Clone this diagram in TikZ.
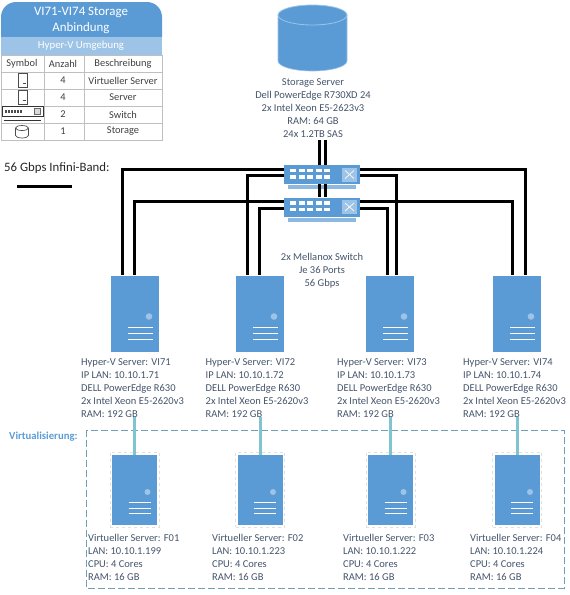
\documentclass[tikz,border=0pt]{standalone}
\usepackage{fontspec}
\setmainfont{Carlito}
\usetikzlibrary{calc}
\definecolor{hdrblue}{HTML}{5B9BD5}
\definecolor{lightblue}{HTML}{9DC3E6}
\definecolor{txtblue}{HTML}{44546A}
\definecolor{linkteal}{HTML}{7FC4CF}
\definecolor{boxteal}{HTML}{6F9FB4}
\definecolor{gridgray}{HTML}{BFBFBF}
\tikzset{
  infotxt/.style={anchor=north west,align=left,inner sep=0pt,text=txtblue,
    font=\fontsize{10.5}{13}\selectfont},
  midtxt/.style={anchor=north,align=center,inner sep=0pt,text=txtblue,
    font=\fontsize{10.5}{13}\selectfont},
  legtxt/.style={inner sep=0pt,text=black!75,font=\fontsize{10.4}{11}\selectfont},
  hdrtxt/.style={inner sep=0pt,text=white,align=center},
  server/.style={fill=hdrblue,inner sep=0pt,minimum width=48pt,minimum height=76pt},
  vserver/.style={fill=hdrblue,inner sep=0pt,minimum width=45pt,minimum height=70pt},
  vrim/.style={draw=black!12,dashed,line width=.8pt,inner sep=0pt,
    minimum width=49pt,minimum height=75pt},
  switchbox/.style={fill=hdrblue,inner sep=0pt,minimum width=76pt,minimum height=19pt},
  ib/.style={line width=3pt,black},
  vlink/.style={line width=3pt,linkteal},
  legicon/.style={draw=black!70,fill=white,line width=.7pt,inner sep=0pt,
    minimum width=9pt,minimum height=14pt},
}
% server and switch symbols
\newcommand{\srvmarks}[1]{%
  \fill[lightblue] ($(#1.center)+(14,3)$) circle (3.3pt);
  \foreach \d in {14,20,26}{\draw[white,line width=1pt] ($(#1.center)+(-7,\d)$)--($(#1.center)+(18,\d)$);}}
\newcommand{\vsrvmarks}[1]{%
  \fill[lightblue] ($(#1.center)+(13,2)$) circle (3pt);
  \foreach \d in {12,18,23}{\draw[white,line width=1pt] ($(#1.center)+(-6,\d)$)--($(#1.center)+(16,\d)$);}}
\newcommand{\switchmarks}[1]{%
  \fill[hdrblue!70] ($(#1.south west)+(4,1)$) rectangle ($(#1.south east)+(-4,5)$);
  \foreach \p in {-29,-20.5,-12,-3.5,5}{
    \fill[white] ($(#1.center)+(\p-3,-6)$) rectangle ($(#1.center)+(\p+3,-2.5)$);
    \fill[white] ($(#1.center)+(\p-3,0.5)$) rectangle ($(#1.center)+(\p+3,4)$);}
  \fill[lightblue] ($(#1.center)+(20,-7)$) rectangle ($(#1.center)+(35,7)$);
  \draw[white,line width=.7pt] ($(#1.center)+(23,-4)$)--($(#1.center)+(32,4)$);
  \draw[white,line width=.7pt] ($(#1.center)+(23,4)$)--($(#1.center)+(32,-4)$);}
\begin{document}
\begin{tikzpicture}[x=1pt,y=-1pt]
  \useasboundingbox (0,0) rectangle (570,595);

  % legend
  \fill[hdrblue] (1,37) [rounded corners=15pt] -- (1,2) -- (162,2) [sharp corners] -- (162,37) -- cycle;
  \fill[lightblue] (1,37) rectangle (162,55);
  \node[hdrtxt,font=\fontsize{12.9}{16}\selectfont] (legtitle) at (81,20) {VI71-VI74 Storage\\Anbindung};
  \node[hdrtxt,font=\fontsize{10.8}{12}\selectfont] (legsub) at (81,46) {Hyper-V Umgebung};
  \draw[gridgray,line width=.5pt] (1,55) rectangle (162,140);
  \foreach \y in {72,89,106,123}{\draw[gridgray,line width=.5pt] (1,\y)--(162,\y);}
  \foreach \x in {44,84}{\draw[gridgray,line width=.5pt] (\x,55)--(\x,140);}
  \node[legtxt] (hsym) at (22,63.5) {Symbol};
  \node[legtxt] (hanz) at (63,63.5) {Anzahl};
  \node[legtxt] (hdes) at (123,63.5) {Beschreibung};
  \node[legtxt] (n1) at (63,80.5) {4};
  \node[legtxt] (n2) at (63,97.5) {4};
  \node[legtxt] (n3) at (63,114.5) {2};
  \node[legtxt] (n4) at (63,131.5) {1};
  \node[legtxt] (d1) at (123,80.5) {Virtueller Server};
  \node[legtxt] (d2) at (123,97.5) {Server};
  \node[legtxt] (d3) at (123,114.5) {Switch};
  \node[legtxt] (d4) at (123,131.5) {Storage};
  \node[legicon] (lsrv1) at (22.5,80.5) {};
  \node[legicon] (lsrv2) at (22.5,97) {};
  \foreach \i in {lsrv1,lsrv2}{\draw[black!70,line width=.6pt] ($(\i.center)+(0,3)$)--($(\i.center)+(3,3)$);}
  \node[draw=black!80,fill=white,line width=.8pt,inner sep=0pt,minimum width=41pt,minimum height=10pt] (lsw) at (22.5,111.5) {};
  \draw[black!80,line width=.8pt] ($(lsw.south west)+(2,3)$)--($(lsw.south east)+(-2,3)$);
  \foreach \p in {-18,-15,-12,-9,-6,-3}{\fill[black!70] ($(lsw.center)+(\p,-2)$) rectangle ($(lsw.center)+(\p+2,1.5)$);}
  \node[draw=black!60,fill=black!15,inner sep=0pt,minimum size=6pt] (lswq) at ($(lsw.center)+(15,0)$) {};
  % small cylinder
  \draw[black!70,line width=.7pt,fill=white] (15.5,128) -- (15.5,135.5) arc[start angle=180,end angle=360,x radius=6.5pt,y radius=2.5pt] -- (28.5,128);
  \draw[black!70,line width=.7pt,fill=white] (22,128) ellipse (6.5pt and 2.5pt);

  \node[inner sep=0pt,anchor=west,text=black!85,font=\fontsize{12.8}{14}\selectfont] (ibtxt) at (4,168) {56 Gbps Infini-Band:};
  \coordinate (iba) at (17,186);
  \coordinate (ibb) at (72,186);
  \draw[ib] (iba)--(ibb);

  % storage
  \draw[lightblue,line width=.6pt,fill=hdrblue] (278,15) -- (278,61) arc[start angle=180,end angle=360,x radius=34.5pt,y radius=10pt] -- (347,15);
  \draw[lightblue,line width=.8pt,fill=hdrblue] (312.5,15) ellipse (34.5pt and 10pt);
  \node[midtxt] (storagetxt) at (313,78) {Storage Server\\Dell PowerEdge R730XD 24\\2x Intel Xeon E5-2623v3\\RAM: 64 GB\\24x 1.2TB SAS};

  % switches
  \node[switchbox] (sw1) at (322,174.5) {};
  \node[switchbox] (sw2) at (322,207) {};
  \switchmarks{sw1}
  \switchmarks{sw2}
  \node[midtxt] (swtxt) at (322,253) {2x Mellanox Switch\\Je 36 Ports\\56 Gbps};

  % hyper-v servers
  \node[server] (vi71) at (135,313.5) {};
  \node[server] (vi72) at (260,313.5) {};
  \node[server] (vi73) at (390,313.5) {};
  \node[server] (vi74) at (517,313.5) {};
  \foreach \s in {vi71,vi72,vi73,vi74}{\srvmarks{\s}}
  \node[infotxt] (vi71txt) at (81,358) {Hyper-V Server: VI71\\IP LAN: 10.10.1.71\\DELL PowerEdge R630\\2x Intel Xeon E5-2620v3\\RAM: 192 GB};
  \node[infotxt] (vi72txt) at (205.5,358) {Hyper-V Server: VI72\\IP LAN: 10.10.1.72\\DELL PowerEdge R630\\2x Intel Xeon E5-2620v3\\RAM: 192 GB};
  \node[infotxt] (vi73txt) at (337,358) {Hyper-V Server: VI73\\IP LAN: 10.10.1.73\\DELL PowerEdge R630\\2x Intel Xeon E5-2620v3\\RAM: 192 GB};
  \node[infotxt] (vi74txt) at (463,358) {Hyper-V Server: VI74\\IP LAN: 10.10.1.74\\DELL PowerEdge R630\\2x Intel Xeon E5-2620v3\\RAM: 192 GB};

  % infiniband links
  \coordinate (sw1top1) at ([xshift=-3]sw1.north);
  \coordinate (sw1top2) at ([xshift=3]sw1.north);
  \coordinate (up1) at (319,140);
  \coordinate (up2) at (325,140);
  \draw[ib] (up1)--(sw1top1);
  \draw[ib] (up2)--(sw1top2);
  \draw[ib] ([xshift=-3]sw1.south)--([xshift=-3]sw2.north);
  \draw[ib] ([xshift=3]sw1.south)--([xshift=3]sw2.north);
  \draw[ib] ([yshift=5.5]sw1.west) -| ([xshift=-13]vi71.north);
  \draw[ib] ([yshift=-.5]sw1.west) -| ([xshift=-13]vi72.north);
  \draw[ib] ([yshift=6]sw2.west) -| ([xshift=-1]vi71.north);
  \draw[ib] ([yshift=-1]sw2.west) -| ([xshift=-1]vi72.north);
  \draw[ib] ([yshift=5.5]sw1.east) -| ([xshift=8]vi74.north);
  \draw[ib] ([yshift=-.5]sw1.east) -| ([xshift=6]vi73.north);
  \draw[ib] ([yshift=6]sw2.east) -| ([xshift=-5]vi74.north);
  \draw[ib] ([yshift=-1]sw2.east) -| ([xshift=-3]vi73.north);

  % virtual servers
  \draw[boxteal,dashed,dash pattern=on 7pt off 3pt,line width=.7pt] (86,430) rectangle (564,588);
  \node[inner sep=0pt,anchor=west,text=hdrblue,font=\bfseries\fontsize{10.7}{12}\selectfont] (virttxt) at (9,436.5) {Virtualisierung:};
  \node[vrim] (f01rim) at (134.5,489.5) {};
  \node[vrim] (f02rim) at (260,489.5) {};
  \node[vrim] (f03rim) at (390.5,489.5) {};
  \node[vrim] (f04rim) at (517,489.5) {};
  \node[vserver] (f01) at (134.5,490) {};
  \node[vserver] (f02) at (260,490) {};
  \node[vserver] (f03) at (390.5,490) {};
  \node[vserver] (f04) at (517,490) {};
  \foreach \s in {f01,f02,f03,f04}{\vsrvmarks{\s}}
  \draw[vlink] (vi71txt.south -| f01.north) -- (f01.north);
  \draw[vlink] (vi72txt.south -| f02.north) -- (f02.north);
  \draw[vlink] (vi73txt.south -| f03.north) -- (f03.north);
  \draw[vlink] (vi74txt.south -| f04.north) -- (f04.north);
  \node[infotxt] (f01txt) at (88,534) {Virtueller Server: F01\\LAN: 10.10.1.199\\CPU: 4 Cores\\RAM: 16 GB};
  \node[infotxt] (f02txt) at (212,534) {Virtueller Server: F02\\LAN: 10.10.1.223\\CPU: 4 Cores\\RAM: 16 GB};
  \node[infotxt] (f03txt) at (343,534) {Virtueller Server: F03\\LAN: 10.10.1.222\\CPU: 4 Cores\\RAM: 16 GB};
  \node[infotxt] (f04txt) at (470,534) {Virtueller Server: F04\\LAN: 10.10.1.224\\CPU: 4 Cores\\RAM: 16 GB};
\end{tikzpicture}
\end{document}
